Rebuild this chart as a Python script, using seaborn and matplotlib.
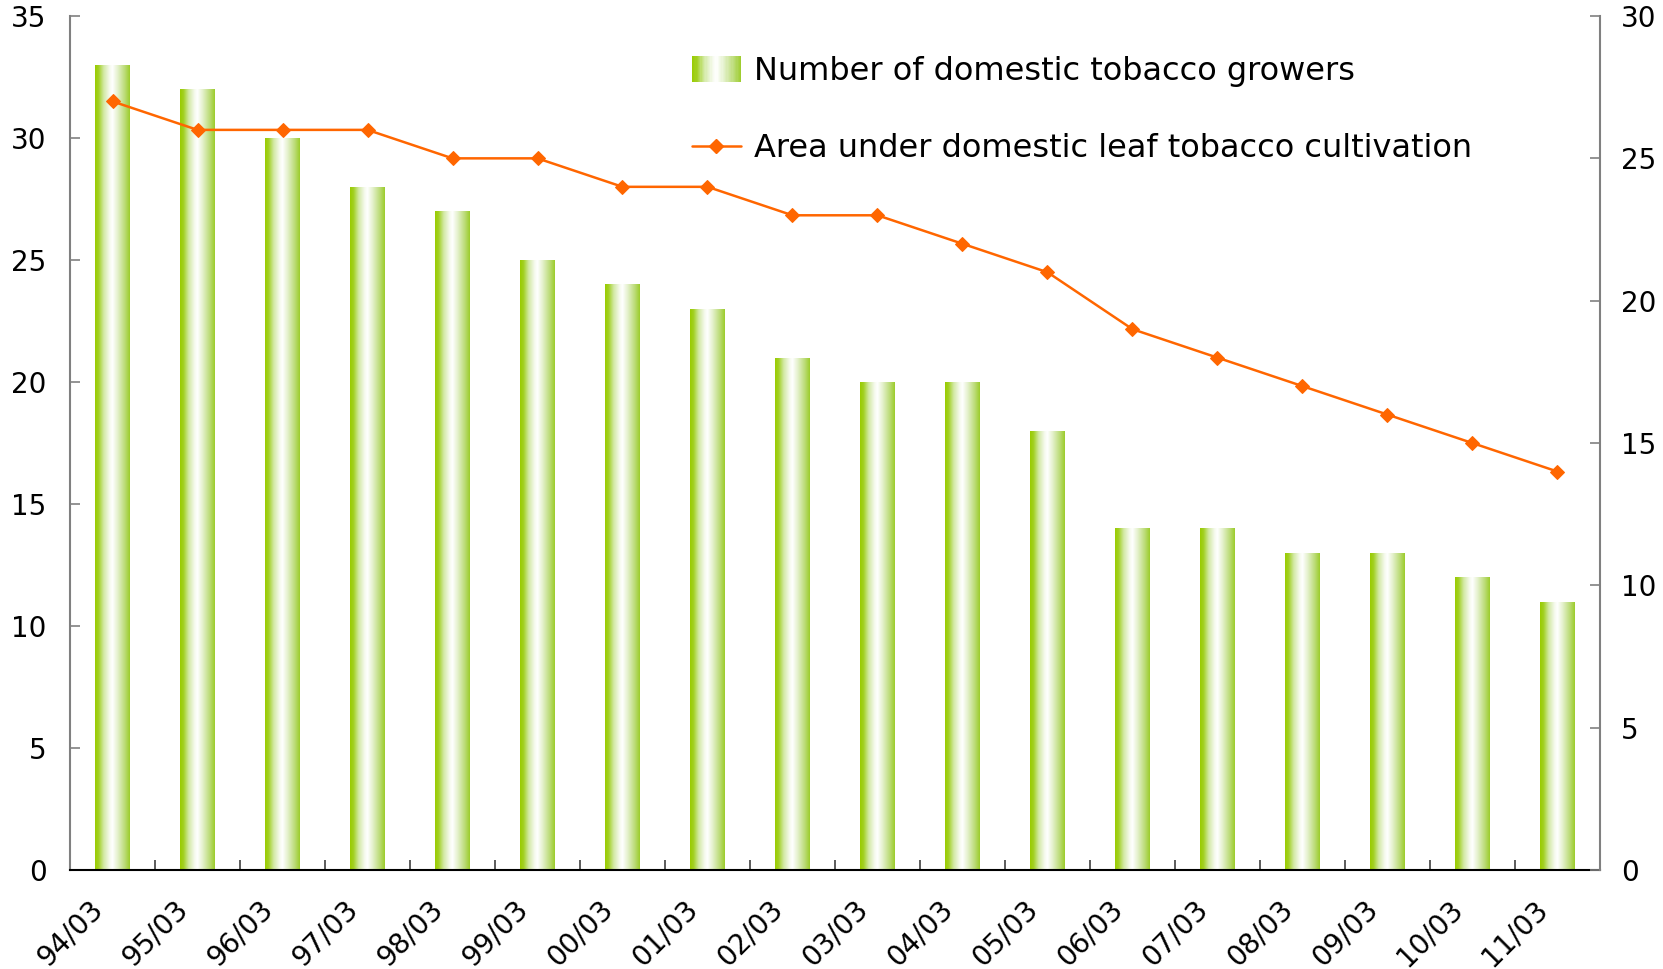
import numpy as np
import pandas as pd
import matplotlib
matplotlib.use("Agg")
import matplotlib.pyplot as plt
import matplotlib.transforms as mtransforms
from matplotlib.colors import LinearSegmentedColormap, to_hex
from matplotlib.patches import Rectangle
from matplotlib.lines import Line2D
from matplotlib.legend_handler import HandlerBase
import seaborn as sns

periods = ["94/03", "95/03", "96/03", "97/03", "98/03", "99/03", "00/03", "01/03", "02/03",
           "03/03", "04/03", "05/03", "06/03", "07/03", "08/03", "09/03", "10/03", "11/03"]
growers = [33, 32, 30, 28, 27, 25, 24, 23, 21, 20, 20, 18, 14, 14, 13, 13, 12, 11]
area = [27, 26, 26, 26, 25, 25, 24, 24, 23, 23, 22, 21, 19, 18, 17, 16, 15, 14]

label_growers = "Number of domestic tobacco growers"
label_area = "Area under domestic leaf tobacco cultivation"

df = pd.DataFrame({"period": periods, "growers": growers, "area": area})

sns.set_theme(style="white")
plt.rcParams["font.family"] = ["DejaVu Sans"]
plt.rcParams["text.color"] = "black"
plt.rcParams["xtick.color"] = "black"
plt.rcParams["ytick.color"] = "black"

bar_green = "#99cc00"
line_orange = "#ff6600"
bar_cmap = LinearSegmentedColormap.from_list(
    "cylinder",
    [(0.0, "#99cc00"), (0.1, "#a2d022"), (0.25, "#d2e9a4"), (0.42, "#f6faee"),
     (0.5, "#ffffff"), (0.65, "#e4f1cc"), (0.85, "#bcdc78"), (1.0, "#9ccc2a")])

fig = plt.figure(figsize=(16.63, 9.69), dpi=100)
ax = fig.add_axes([0.0421, 0.102, 0.920, 0.8815])

sns.barplot(data=df, x="period", y="growers", ax=ax, color=bar_green,
            width=0.41, edgecolor="none", linewidth=0, saturation=1)

# shade each bar with a horizontal cylinder-like gradient
grad = np.linspace(0, 1, 256).reshape(1, -1)
for patch in ax.patches:
    x0, y0 = patch.get_x(), patch.get_y()
    w, h = patch.get_width(), patch.get_height()
    patch.set_facecolor("none")
    im = ax.imshow(grad, cmap=bar_cmap, aspect="auto", interpolation="bilinear",
                   extent=(x0, x0 + w, y0, y0 + h), zorder=2)
    im.set_clip_path(patch)

ax.set_xlim(-0.5, len(periods) - 0.5)
ax.set_ylim(0, 35)
ax.set_yticks(np.arange(0, 36, 5))
ax.set_xlabel("")
ax.set_ylabel("")

ax2 = ax.twinx()
sns.lineplot(data=df, x="period", y="area", ax=ax2, sort=False, color=line_orange,
             linewidth=1.8, marker="D", markersize=7.5, markeredgecolor=line_orange,
             markerfacecolor=line_orange)
ax2.set_ylim(0, 30)
ax2.set_yticks(np.arange(0, 31, 5))
ax2.set_xlim(-0.5, len(periods) - 0.5)
ax2.set_ylabel("")

# spines
for a in (ax, ax2):
    a.spines["top"].set_visible(False)
ax.spines["right"].set_visible(False)
ax.spines["left"].set_color("#808080")
ax.spines["left"].set_linewidth(1.5)
ax.spines["bottom"].set_color("#000000")
ax.spines["bottom"].set_linewidth(1.5)
ax2.spines["left"].set_visible(False)
ax2.spines["bottom"].set_visible(False)
ax2.spines["right"].set_color("#808080")
ax2.spines["right"].set_linewidth(1.5)

# ticks
ax.tick_params(axis="y", direction="in", length=7, width=1.2, color="#808080",
               labelsize=20, pad=17, left=True, labelcolor="black")
ax2.tick_params(axis="y", direction="in", length=7, width=1.2, color="#808080",
                labelsize=20, pad=15, right=True, labelcolor="black")
ax.set_xticks(np.arange(len(periods)))
ax.set_xticklabels(periods)
ax.tick_params(axis="x", bottom=False, labelsize=20, pad=19, labelcolor="black")
ax.set_xticks(np.arange(len(periods) + 1) - 0.5, minor=True)
ax.tick_params(axis="x", which="minor", bottom=True, direction="in", length=7,
               width=1.2, color="#404040")

# slanted period labels, nudged left so their ends sit under the bars
shift = mtransforms.ScaledTranslation(-14 / 100, 0, fig.dpi_scale_trans)
for tick in ax.xaxis.get_major_ticks():
    lbl = tick.label1
    lbl.set_rotation(45)
    lbl.set_rotation_mode("anchor")
    lbl.set_ha("right")
    lbl.set_va("center")
    lbl.set_transform(lbl.get_transform() + shift)


class GradientHandler(HandlerBase):
    def create_artists(self, legend, orig_handle, xdescent, ydescent, width, height,
                       fontsize, trans):
        n = 40
        arts = []
        for i in range(n):
            c = to_hex(bar_cmap((i + 0.5) / n))
            r = Rectangle((-xdescent + width * i / n, -ydescent - height * 0.1),
                          width / n + 0.05, height * 1.2, facecolor=c,
                          edgecolor="none", transform=trans)
            arts.append(r)
        return arts


bar_handle = Rectangle((0, 0), 1, 1)
line_handle = Line2D([], [], color=line_orange, linewidth=1.8, marker="D",
                     markersize=7.5)
leg = ax2.legend([bar_handle, line_handle], [label_growers, label_area],
                 handler_map={Rectangle: GradientHandler()},
                 loc="upper left", bbox_to_anchor=(0.398, 0.968), frameon=False,
                 fontsize=23, handlelength=1.55, handletextpad=0.4,
                 labelspacing=1.45, borderaxespad=0)
for t in leg.get_texts():
    t.set_color("black")

fig.savefig("out.png", dpi=100, facecolor="white")
